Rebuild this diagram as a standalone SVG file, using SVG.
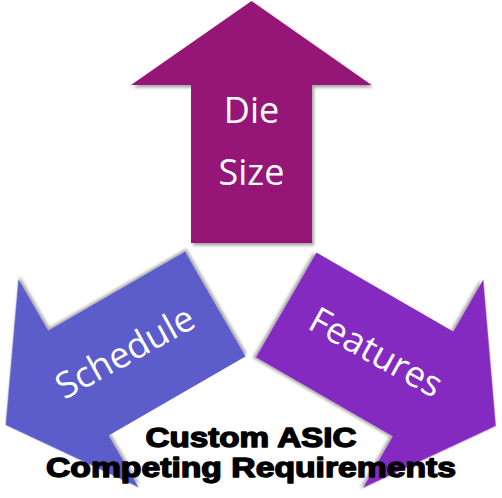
<svg xmlns="http://www.w3.org/2000/svg" width="502" height="498" viewBox="0 0 502 498">
  <defs>
    <filter id="sh" x="-10%" y="-10%" width="130%" height="130%">
      <feDropShadow dx="2" dy="2.5" stdDeviation="1.5" flood-color="#000" flood-opacity="0.35"/>
    </filter>
    <polygon id="arrowShape" points="251.5,1 371.5,85 312,85 312,243 191,243 191,85 131,85"/>
  </defs>
  <style>
    .lbl { font-family: "Open Sans", "Noto Sans", "DejaVu Sans", sans-serif; font-size: 36px; fill: #ffffff; text-anchor: middle; }
    .title { font-family: "Liberation Sans", Arial, sans-serif; font-weight: bold; font-size: 27.5px; fill: #000; stroke: #000; stroke-width: 1.4; stroke-linejoin: round; text-anchor: middle; }
  </style>
  <g id="die-size">
    <use href="#arrowShape" fill="#951677" filter="url(#sh)"/>
    <text class="lbl" x="251.5" y="123">Die</text>
    <text class="lbl" x="251.5" y="185">Size</text>
  </g>
  <g id="schedule">
    <use href="#arrowShape" fill="#5b5bcb" filter="url(#sh)" transform="rotate(-120 251 284)"/>
    <text class="lbl" x="131" y="363" transform="rotate(-29 131 363)">Schedule</text>
  </g>
  <g id="features">
    <use href="#arrowShape" fill="#8529c1" filter="url(#sh)" transform="rotate(120 251 284)"/>
    <text class="lbl" x="370" y="363" transform="rotate(29 370 363)">Features</text>
  </g>
  <g id="connectors"></g>
  <g id="title">
    <text class="title" x="251" y="446.5" textLength="211" lengthAdjust="spacingAndGlyphs">Custom ASIC</text>
    <text class="title" x="251" y="476.5" textLength="410" lengthAdjust="spacingAndGlyphs">Competing Requirements</text>
  </g>
</svg>
